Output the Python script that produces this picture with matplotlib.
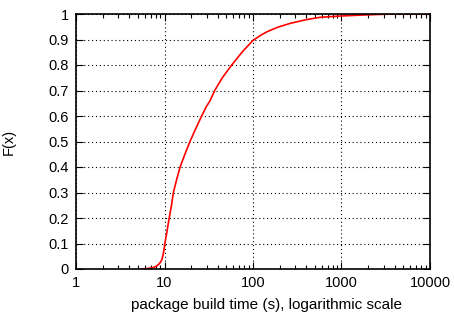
import numpy as np
import matplotlib.pyplot as plt
from matplotlib.ticker import LogLocator

plt.rcParams['font.family'] = ['Liberation Sans', 'DejaVu Sans']

# build time (s) and cumulative fraction
buildTime = [5.5, 6.5, 7.5, 8.2, 8.8, 9.3, 9.7, 10.1, 10.7, 11.3, 12.0, 12.6,
             13.7, 15.0, 17.0, 19.4, 22.5, 26.3, 29.5, 32.7, 37.2, 45, 57.5,
             75, 99, 120, 143, 190, 262, 400, 571, 955, 1500, 2500, 4000, 10000]
cdfVal = [0.0, 0.002, 0.006, 0.012, 0.022, 0.035, 0.06, 0.10, 0.15, 0.20, 0.25,
          0.30, 0.35, 0.40, 0.45, 0.50, 0.55, 0.60, 0.635, 0.66, 0.702, 0.75,
          0.80, 0.85, 0.895, 0.915, 0.93, 0.948, 0.963, 0.978, 0.987, 0.992,
          0.995, 0.998, 1.0, 1.0]

xTicks = [1, 10, 100, 1000, 10000]
xTickLabels = ["1", "10", "100", "1000", "10000"]
yTicks = [0, 0.1, 0.2, 0.3, 0.4, 0.5, 0.6, 0.7, 0.8, 0.9, 1]
yTickLabels = ["0", "0.1", "0.2", "0.3", "0.4", "0.5", "0.6", "0.7", "0.8", "0.9", "1"]

fig = plt.figure(figsize=(4.54, 3.12), dpi=100)
ax = fig.add_axes([76 / 454, 1 - 269 / 312, (430 - 76) / 454, (269 - 14) / 312])

ax.plot(buildTime, cdfVal, color='#ff0000', lw=1.2)

ax.set_xscale('log')
ax.set_xlim(1, 10000)
ax.set_ylim(0, 1)
ax.set_xticks(xTicks)
ax.set_xticklabels(xTickLabels)
ax.xaxis.set_minor_locator(LogLocator(base=10, subs=np.arange(2, 10)))
ax.xaxis.set_minor_formatter(plt.NullFormatter())
ax.set_yticks(yTicks)
ax.set_yticklabels(yTickLabels)

ax.tick_params(which='both', direction='in', top=True, right=True, labelsize=10.5, pad=5)
ax.tick_params(which='major', length=5, width=0.8)
ax.tick_params(which='minor', length=3, width=0.8)

ax.grid(True, which='major', linestyle=(0, (1, 2.5)), color='black', lw=0.8)

for s in ax.spines.values():
    s.set_linewidth(1.2)

ax.set_xlabel("package build time (s), logarithmic scale", fontsize=11)
ax.xaxis.set_label_coords(0.537, -0.115, transform=ax.transAxes)
ax.xaxis.label.set_va('top')
ax.set_ylabel("F(x)", fontsize=10.5, labelpad=24)

fig.savefig("out.png", dpi=100)
